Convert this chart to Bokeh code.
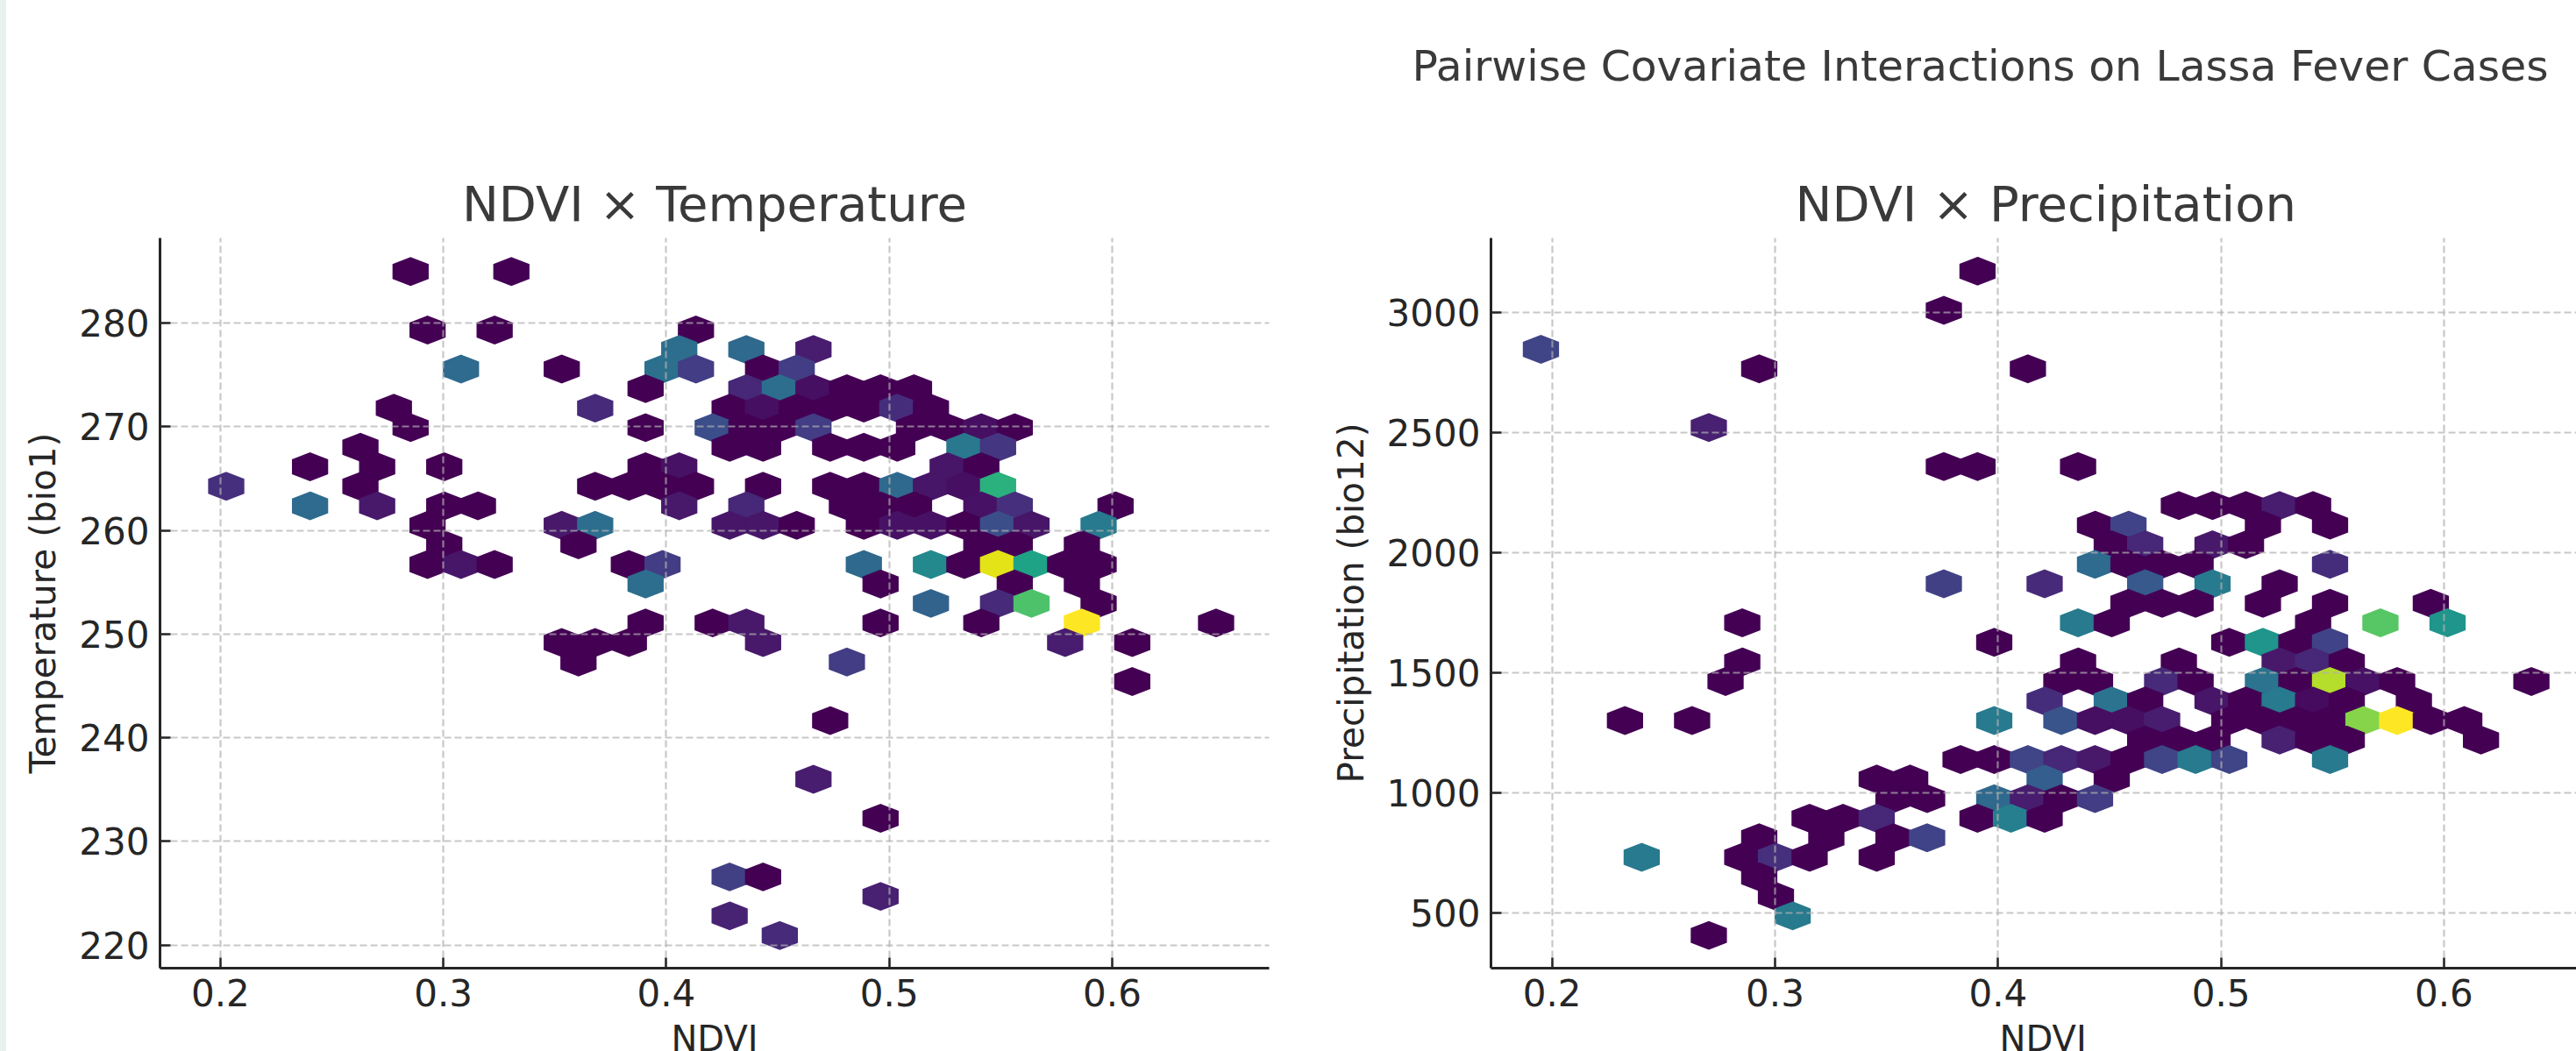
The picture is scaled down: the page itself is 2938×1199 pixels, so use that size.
from bokeh.embed import file_html
from bokeh.resources import INLINE
from bokeh.plotting import figure
from bokeh.models import ColumnDataSource, Title, Range1d, Div, LinearColorMapper
from bokeh.layouts import row
from bokeh.palettes import Viridis256

x_ticks = [0.2, 0.3, 0.4, 0.5, 0.6]
temp_ticks = [220, 230, 240, 250, 260, 270, 280]
precip_ticks = [500, 1000, 1500, 2000, 2500, 3000]

# NDVI x Temperature: one line per hexagon row
temp_ndvi = [
    .2853, .3305,
    .2929, .3230, .4133,
    .4058, .4359, .4660,
    .3079, .3531, .3983, .4133, .4434, .4585,
    .3907, .4359, .4509, .4660, .4810, .4961, .5111,
    .2778, .3681, .4284, .4434, .4585, .4735, .4886, .5036, .5187,
    .2853, .3907, .4208, .4359, .4509, .4660, .5111, .5262, .5413, .5563,
    .2628, .4284, .4434, .4735, .4886, .5036, .5337, .5488,
    .2402, .2703, .3004, .3907, .4058, .5262, .5413,
    .2026, .2628, .3681, .3832, .3983, .4133, .4434, .4735, .4886, .5036, .5187, .5337, .5488,
    .2402, .2703, .3004, .3155, .4058, .4359, .4810, .4961, .5111, .5413, .5563, .6015,
    .2929, .3531, .3681, .4284, .4434, .4585, .4886, .5036, .5187, .5337, .5488, .5638, .5939,
    .3004, .3606, .5413, .5563, .5864,
    .2929, .3079, .3230, .3832, .3983, .4886, .5187, .5337, .5488, .5638, .5789, .5939,
    .3907, .4961, .5563, .5864,
    .5187, .5488, .5638, .5939,
    .3907, .4208, .4359, .4961, .5413, .5864, .6466,
    .3531, .3681, .3832, .4434, .5789, .6090,
    .3606, .4810,
    .6090,
    .4735,
    .4660,
    .4961,
    .4284, .4434,
    .4961,
    .4284,
    .4509,
]
temp_bio1 = [
    284.96, 284.96,
    279.31, 279.31, 279.31,
    277.43, 277.43, 277.43,
    275.55, 275.55, 275.55, 275.55, 275.55, 275.55,
    273.66, 273.66, 273.66, 273.66, 273.66, 273.66, 273.66,
    271.78, 271.78, 271.78, 271.78, 271.78, 271.78, 271.78, 271.78, 271.78,
    269.90, 269.90, 269.90, 269.90, 269.90, 269.90, 269.90, 269.90, 269.90, 269.90,
    268.01, 268.01, 268.01, 268.01, 268.01, 268.01, 268.01, 268.01,
    266.13, 266.13, 266.13, 266.13, 266.13, 266.13, 266.13,
    264.25, 264.25, 264.25, 264.25, 264.25, 264.25, 264.25, 264.25, 264.25, 264.25, 264.25, 264.25, 264.25,
    262.36, 262.36, 262.36, 262.36, 262.36, 262.36, 262.36, 262.36, 262.36, 262.36, 262.36, 262.36,
    260.48, 260.48, 260.48, 260.48, 260.48, 260.48, 260.48, 260.48, 260.48, 260.48, 260.48, 260.48, 260.48,
    258.60, 258.60, 258.60, 258.60, 258.60,
    256.71, 256.71, 256.71, 256.71, 256.71, 256.71, 256.71, 256.71, 256.71, 256.71, 256.71, 256.71,
    254.83, 254.83, 254.83, 254.83,
    252.95, 252.95, 252.95, 252.95,
    251.07, 251.07, 251.07, 251.07, 251.07, 251.07, 251.07,
    249.18, 249.18, 249.18, 249.18, 249.18, 249.18,
    247.30, 247.30,
    245.42,
    241.65,
    236.00,
    232.23,
    226.58, 226.58,
    224.70,
    222.82,
    220.93,
]
temp_value = [
    0, 0,
    0, 0, 0,
    .36, .34, .08,
    .35, 0, .37, .18, 0, .18,
    0, .11, .36, .04, 0, 0, 0,
    0, .12, 0, .04, 0, 0, 0, .13, 0,
    0, 0, .24, 0, 0, .18, 0, 0, .04, 0,
    0, 0, 0, 0, 0, 0, .40, .16,
    0, 0, 0, 0, .05, .06, 0,
    .14, 0, 0, 0, 0, 0, 0, 0, 0, .34, .06, .04, .64,
    .35, .07, 0, 0, .07, .11, 0, 0, 0, .05, .14, 0,
    0, .07, .36, .06, .06, 0, 0, .05, .05, 0, .24, .06, .41,
    0, 0, 0, 0, 0,
    0, .06, 0, 0, .18, .34, .47, 0, .96, .58, 0, 0,
    .36, 0, 0, 0,
    .32, .12, .72, 0,
    0, 0, .07, 0, 0, 1.0, 0,
    0, 0, 0, .07, .08, 0,
    0, .18,
    0,
    0,
    .08,
    0,
    .19, 0,
    .09,
    .10,
    .12,
]

# NDVI x Precipitation: one line per hexagon row
precip_ndvi = [
    .3908,
    .3757,
    .1950,
    .2929, .4134,
    .2703,
    .3757, .3908, .4359,
    .4811, .4962, .5112, .5263, .5413,
    .4435, .4585, .5188, .5489,
    .4510, .4660, .4962, .5112,
    .4435, .4585, .4736, .4886, .5489,
    .3757, .4209, .4660, .4962, .5263,
    .4585, .4736, .4886, .5188, .5489, .5941,
    .2853, .4359, .4510, .5413, .5715, .6016,
    .3983, .5037, .5188, .5338, .5489,
    .2853, .4359, .4811, .5263, .5413, .5564,
    .2778, .4284, .4435, .4736, .4886, .5188, .5338, .5489, .5639, .5790, .6392,
    .4209, .4510, .4660, .4962, .5112, .5263, .5413, .5564, .5865,
    .2327, .2628, .3983, .4284, .4435, .4585, .4736, .5037, .5188, .5338, .5489, .5639, .5790, .5941, .6091,
    .4660, .4811, .4962, .5263, .5413, .5564, .6166,
    .3832, .3983, .4134, .4284, .4435, .4585, .4736, .4886, .5037, .5489,
    .3456, .3606, .4209, .4510,
    .3531, .3682, .3983, .4134, .4284, .4435,
    .3155, .3305, .3456, .3908, .4058, .4209,
    .2929, .3230, .3531, .3682,
    .2402, .2853, .3004, .3155, .3456,
    .2929,
    .3004,
    .3079,
    .2703,
]
precip_bio12 = [
    3170.9,
    3008.4,
    2845.8,
    2764.6, 2764.6,
    2520.7,
    2358.2, 2358.2, 2358.2,
    2195.7, 2195.7, 2195.7, 2195.7, 2195.7,
    2114.4, 2114.4, 2114.4, 2114.4,
    2033.1, 2033.1, 2033.1, 2033.1,
    1951.9, 1951.9, 1951.9, 1951.9, 1951.9,
    1870.6, 1870.6, 1870.6, 1870.6, 1870.6,
    1789.3, 1789.3, 1789.3, 1789.3, 1789.3, 1789.3,
    1708.0, 1708.0, 1708.0, 1708.0, 1708.0, 1708.0,
    1626.8, 1626.8, 1626.8, 1626.8, 1626.8,
    1545.5, 1545.5, 1545.5, 1545.5, 1545.5, 1545.5,
    1464.2, 1464.2, 1464.2, 1464.2, 1464.2, 1464.2, 1464.2, 1464.2, 1464.2, 1464.2, 1464.2,
    1382.9, 1382.9, 1382.9, 1382.9, 1382.9, 1382.9, 1382.9, 1382.9, 1382.9,
    1301.7, 1301.7, 1301.7, 1301.7, 1301.7, 1301.7, 1301.7, 1301.7, 1301.7, 1301.7, 1301.7, 1301.7, 1301.7, 1301.7, 1301.7,
    1220.4, 1220.4, 1220.4, 1220.4, 1220.4, 1220.4, 1220.4,
    1139.1, 1139.1, 1139.1, 1139.1, 1139.1, 1139.1, 1139.1, 1139.1, 1139.1, 1139.1,
    1057.9, 1057.9, 1057.9, 1057.9,
    976.6, 976.6, 976.6, 976.6, 976.6, 976.6,
    895.3, 895.3, 895.3, 895.3, 895.3, 895.3,
    814.0, 814.0, 814.0, 814.0,
    732.8, 732.8, 732.8, 732.8, 732.8,
    651.5,
    570.2,
    489.0,
    407.7,
]
precip_value = [
    0,
    0,
    .21,
    0, 0,
    .09,
    0, 0, 0,
    0, 0, 0, .08, 0,
    0, .20, 0, 0,
    0, .11, .07, 0,
    .35, 0, 0, 0, .13,
    .19, .12, .28, .41, 0,
    0, 0, 0, 0, 0, 0,
    0, .41, 0, 0, .74, .52,
    0, 0, .52, 0, .20,
    0, 0, 0, .07, .11, 0,
    0, 0, 0, .12, 0, .38, 0, .89, .05, 0, 0,
    .13, .38, 0, .06, 0, .41, .03, 0, 0,
    0, 0, .41, .26, .04, .04, .08, 0, 0, 0, 0, .82, 1.0, 0, 0,
    0, 0, 0, .09, 0, 0, 0,
    0, 0, .21, .11, .07, 0, .21, .41, .21, .41,
    0, 0, .30, 0,
    0, 0, .34, .08, 0, .18,
    0, 0, .11, 0, .43, 0,
    0, 0, 0, .20,
    .41, 0, .14, 0, 0,
    0,
    0,
    .41,
    0,
]


def hexes(xs, ys, half_width, half_height):
    outline_x, outline_y = [], []
    for cx, cy in zip(xs, ys):
        outline_x.append([cx, cx + half_width, cx + half_width, cx, cx - half_width, cx - half_width])
        outline_y.append([cy + half_height, cy + half_height / 2, cy - half_height / 2,
                          cy - half_height, cy - half_height / 2, cy + half_height / 2])
    return outline_x, outline_y


DARK = "#262626"
TITLE = "#3a3a3a"
FONT = "DejaVu Sans"
mapper = LinearColorMapper(palette=Viridis256, low=0, high=1)


def text_title(text, size, align, offset, standoff, color, vertical_align="bottom"):
    return Title(text=text, text_font=FONT, text_font_size=size, text_font_style="normal",
                 text_color=color, align=align, offset=offset, standoff=standoff,
                 vertical_align=vertical_align)


def panel(width, border_left, border_right, x_range, y_range, ys_ticks, ylab, xs, ys, vals, half_h):
    p = figure(width=width, height=1199, x_range=Range1d(*x_range), y_range=Range1d(*y_range),
               output_backend="svg", toolbar_location=None,
               min_border_left=border_left, min_border_right=border_right,
               min_border_top=271, min_border_bottom=95)
    p.outline_line_color = None
    px, py = hexes(xs, ys, 0.00753, half_h)
    src = ColumnDataSource(dict(xs=px, ys=py, v=vals))
    cspec = dict(field="v", transform=mapper)
    p.patches("xs", "ys", source=src, fill_color=cspec, line_color=cspec, line_width=3, line_join="miter")
    p.xaxis.ticker = x_ticks
    p.yaxis.ticker = ys_ticks
    p.yaxis.axis_label = ylab
    for ax in (p.xaxis[0], p.yaxis[0]):
        ax.level = "overlay"
        ax.axis_line_color = DARK
        ax.axis_line_width = 3
        ax.major_tick_line_color = DARK
        ax.major_tick_line_width = 2.5
        ax.major_tick_in = 12
        ax.major_tick_out = 0
        ax.minor_tick_line_color = None
        ax.major_label_text_font = FONT
        ax.major_label_text_font_size = "42px"
        ax.major_label_text_color = DARK
        ax.major_label_standoff = 12
        ax.axis_label_text_font = FONT
        ax.axis_label_text_font_size = "40.5px"
        ax.axis_label_text_font_style = "normal"
        ax.axis_label_text_color = DARK
    p.yaxis.major_label_orientation = "horizontal"
    p.yaxis.axis_label_standoff = 14
    # a blank axis label only reserves the gap between tick labels and the NDVI title
    p.xaxis.axis_label = " "
    p.xaxis.axis_label_text_font_size = "15px"
    p.xaxis.axis_label_standoff = 0
    for g in (p.xgrid[0], p.ygrid[0]):
        g.level = "annotation"
        g.grid_line_color = "#b0b0b0"
        g.grid_line_alpha = 0.7
        g.grid_line_width = 2.2
        g.grid_line_dash = "8 4"
    return p


p1 = panel(1493, 175, 53, (0.1729, 0.6704), (217.78, 288.19), temp_ticks, "Temperature (bio1)",
           temp_ndvi, temp_bio1, temp_value, 1.2553)
p1.title = text_title("NDVI \u00d7 Temperature", "56px", "center", -2, 14, TITLE)
p1.add_layout(text_title("NDVI", "40px", "center", 0, -24, DARK, "bottom"), "below")

p2 = panel(1438, 200, 0, (0.1726, 0.6594), (271.5, 3309.0), precip_ticks, "Precipitation (bio12)",
           precip_ndvi, precip_bio12, precip_value, 54.18)
p2.title = text_title("Pairwise Covariate Interactions on Lassa Fever Cases", "48.8px", "left", -90, 0, TITLE)
p2.add_layout(text_title("NDVI \u00d7 Precipitation", "56px", "left", 347, 14, TITLE), "above")
# a blank title only reserves the gap between the panel title and the overall title
p2.add_layout(text_title(" ", "10px", "left", 0, 74, TITLE), "above")
p2.add_layout(text_title("NDVI", "40px", "left", 580, -24, DARK, "bottom"), "below")

stripe = Div(text="", width=7, height=1199, margin=0, styles={"background-color": "#e9f1ec"})
root = row(stripe, p1, p2, spacing=0, margin=0)

open("out.html", "w").write(file_html(root, INLINE))
